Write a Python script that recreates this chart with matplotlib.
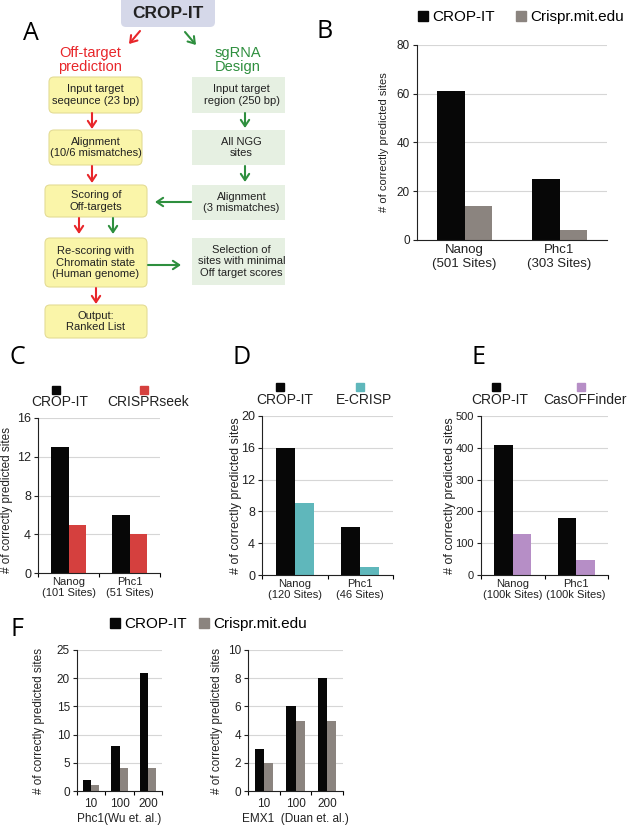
import numpy as np
import matplotlib
matplotlib.use('Agg')
import matplotlib.pyplot as plt
from matplotlib.patches import FancyBboxPatch
from matplotlib.lines import Line2D

plt.rcParams['font.family'] = ['Liberation Sans', 'DejaVu Sans']

BLACK = '#070707'
GRAY = '#8b847f'
RED = '#d5403e'
TEAL = '#5fb7bb'
PURPLE = '#b68ec6'

# panel B
b_cats = ['Nanog\n(501 Sites)', 'Phc1\n(303 Sites)']
b_cropit = [61, 25]
b_mit = [14, 4]
# panel C
c_cats = ['Nanog\n(101 Sites)', 'Phc1\n(51 Sites)']
c_cropit = [13, 6]
c_seek = [5, 4]
# panel D
d_cats = ['Nanog\n(120 Sites)', 'Phc1\n(46 Sites)']
d_cropit = [16, 6]
d_ecrisp = [9, 1]
# panel E
e_cats = ['Nanog\n(100k Sites)', 'Phc1\n(100k Sites)']
e_cropit = [410, 178]
e_cas = [128, 47]
# panel F
f_cats = ['10', '100', '200']
f_phc1_cropit = [2, 8, 21]
f_phc1_mit = [1, 4, 4]
f_emx1_cropit = [3, 6, 8]
f_emx1_mit = [2, 5, 5]

# panel A flowchart
left_steps = ['Input target\nseqeunce (23 bp)', 'Alignment\n(10/6 mismatches)',
              'Scoring of\nOff-targets', 'Re-scoring with\nChromatin state\n(Human genome)',
              'Output:\nRanked List']
right_steps = ['Input target\nregion (250 bp)', 'All NGG\nsites',
               'Alignment\n(3 mismatches)', 'Selection of\nsites with minimal\nOff target scores']

W, H = 629, 827
fig = plt.figure(figsize=(6.29, 8.27), dpi=100)

# full-figure overlay in pixel coordinates for the diagram and letters
ov = fig.add_axes([0, 0, 1, 1])
ov.set_xlim(0, W)
ov.set_ylim(H, 0)
ov.axis('off')

left_boxes = [(49, 77, 142, 113), (49, 130, 142, 165), (45, 185, 147, 217),
              (45, 238, 147, 287), (45, 305, 147, 338)]
right_boxes = [(192, 77, 285, 113), (192, 130, 285, 165), (192, 185, 285, 220),
               (192, 238, 285, 285)]

for (x0, y0, x1, y1), t in zip(left_boxes, left_steps):
    ov.add_patch(FancyBboxPatch((x0, y0), x1 - x0, y1 - y0,
                                boxstyle='round,pad=0,rounding_size=5',
                                fc='#faf5a9', ec='#e4dc95', lw=0.8))
    ov.text((x0 + x1) / 2, (y0 + y1) / 2, t, ha='center', va='center',
            fontsize=8, color='#222222', linespacing=1.15)
for (x0, y0, x1, y1), t in zip(right_boxes, right_steps):
    ov.add_patch(FancyBboxPatch((x0, y0), x1 - x0, y1 - y0,
                                boxstyle='square,pad=0', fc='#e6f0e2', ec='none'))
    ov.text((x0 + x1) / 2 + 3, (y0 + y1) / 2, t, ha='center', va='center',
            fontsize=8, color='#222222', linespacing=1.15)

ov.add_patch(FancyBboxPatch((121, -6), 94, 33, boxstyle='round,pad=0,rounding_size=5',
                            fc='#d5d8e9', ec='none'))
ov.text(168, 13, 'CROP-IT', ha='center', va='center', fontsize=12.5,
        fontweight='bold', color='#222222')

REDA = '#e8262a'
GRNA = '#2e8f3e'
ov.text(90, 60, 'Off-target\nprediction', ha='center', va='center', fontsize=10.5,
        color=REDA, linespacing=1.05)
ov.text(238, 60, 'sgRNA\nDesign', ha='center', va='center', fontsize=10.5,
        color=GRNA, linespacing=1.05)

arrows = [((140, 31), (129, 44), REDA), ((185, 32), (196, 45), GRNA),
          ((92, 113), (92, 129), REDA), ((92, 166), (92, 183), REDA),
          ((79, 218), (79, 234), REDA), ((113, 218), (113, 234), GRNA),
          ((96, 288), (96, 304), REDA),
          ((245, 113), (245, 128), GRNA), ((245, 166), (245, 182), GRNA),
          ((191, 202), (155, 202), GRNA), ((148, 265), (181, 265), GRNA)]
for (xa, ya), (xb, yb), c in arrows:
    ov.annotate('', xy=(xb, yb), xytext=(xa, ya),
                arrowprops=dict(arrowstyle='->,head_length=0.45,head_width=0.3',
                                color=c, lw=1.5, shrinkA=0, shrinkB=0))

for letter, (lx, ly) in zip('ABCDEF', [(31, 33), (325, 32), (17, 357), (242, 357),
                                       (478, 357), (17, 630)]):
    ov.text(lx, ly, letter, ha='center', va='center', fontsize=18,
            family='Open Sans', color='black')


def add_ax(x0, y0, x1, y1):
    return fig.add_axes([x0 / W, 1 - y1 / H, (x1 - x0) / W, (y1 - y0) / H])


def bars(ax, cats, a, b, col, ymax, step, tfs, xfs, yfs, xticks_minor=True):
    x = np.arange(len(cats))
    w = 0.29
    ax.bar(x - w / 2, a, w, color=BLACK)
    ax.bar(x + w / 2, b, w, color=col)
    ax.set_xlim(-0.5, len(cats) - 0.5)
    ax.set_ylim(0, ymax)
    ax.set_yticks(np.arange(0, ymax + 1, step))
    ax.set_xticks(x)
    ax.set_xticklabels(cats, fontsize=xfs, linespacing=1.15)
    ax.tick_params(axis='x', which='major', length=0, pad=3, colors='#222222')
    if xticks_minor:
        ax.set_xticks(np.arange(-0.5, len(cats)), minor=True)
        ax.tick_params(axis='x', which='minor', length=3, width=0.8)
    ax.tick_params(axis='y', labelsize=tfs, length=3, width=0.8, pad=2,
                   colors='#222222')
    ax.yaxis.grid(True, color='#d6d6d6', lw=0.8)
    ax.set_axisbelow(True)
    for s in ['top', 'right']:
        ax.spines[s].set_visible(False)
    for s in ['left', 'bottom']:
        ax.spines[s].set_linewidth(0.8)
        ax.spines[s].set_color('#222222')
    ax.set_ylabel('# of correctly predicted sites', fontsize=yfs, color='#222222')


def top_legend(ax, names, cols, xs):
    for n, c, xx in zip(names, cols, xs):
        ax.text(xx, 1.10, n, transform=ax.transAxes, ha='center', va='center',
                fontsize=10, color='#222222')
        ax.plot([xx - 0.03], [1.18], 's', ms=5.5, color=c, transform=ax.transAxes,
                clip_on=False)


# B
axB = add_ax(417, 45, 607, 240)
bars(axB, b_cats, b_cropit, b_mit, GRAY, 80, 20, 8.5, 9.5, 8, xticks_minor=False)
axB.yaxis.set_label_coords(-0.147, 0.5)
fig.legend(handles=[Line2D([], [], marker='s', ls='', color=BLACK, ms=7),
                    Line2D([], [], marker='s', ls='', color=GRAY, ms=7)],
           labels=['CROP-IT', 'Crispr.mit.edu'], loc='center',
           bbox_to_anchor=(520 / W, 1 - 17 / H), ncol=2, frameon=False,
           fontsize=11, handletextpad=0.1, columnspacing=1.2, handlelength=1)

# C
axC = add_ax(38, 418, 160, 573)
bars(axC, c_cats, c_cropit, c_seek, RED, 16, 4, 9, 8, 8.5)
axC.yaxis.set_label_coords(-0.205, 0.47)
top_legend(axC, ['CROP-IT', 'CRISPRseek'], [BLACK, RED], [0.18, 0.90])

# D
axD = add_ax(262, 416, 393, 575)
bars(axD, d_cats, d_cropit, d_ecrisp, TEAL, 20, 4, 9, 8, 9)
axD.yaxis.set_label_coords(-0.153, 0.5)
top_legend(axD, ['CROP-IT', 'E-CRISP'], [BLACK, TEAL], [0.17, 0.78])

# E
axE = add_ax(481, 416, 608, 575)
bars(axE, e_cats, e_cropit, e_cas, PURPLE, 500, 100, 8, 8, 9)
axE.yaxis.set_label_coords(-0.195, 0.5)
top_legend(axE, ['CROP-IT', 'CasOFFinder'], [BLACK, PURPLE], [0.15, 0.82])

# F
axF1 = add_ax(77, 650, 162, 791)
bars(axF1, f_cats, f_phc1_cropit, f_phc1_mit, GRAY, 25, 5, 8.5, 8.5, 8.5)
axF1.tick_params(axis='x', which='major', pad=5)
axF1.set_xlabel('Phc1(Wu et. al.)', fontsize=8.5, labelpad=2, color='#222222')
axF1.yaxis.set_label_coords(-0.376, 0.5)

axF2 = add_ax(248, 650, 343, 791)
bars(axF2, f_cats, f_emx1_cropit, f_emx1_mit, GRAY, 10, 2, 8.5, 8.5, 8.5)
axF2.tick_params(axis='x', which='major', pad=5)
axF2.set_xlabel('EMX1  (Duan et. al.)', fontsize=8.5, labelpad=2, color='#222222')
axF2.yaxis.set_label_coords(-0.263, 0.5)

fig.legend(handles=[Line2D([], [], marker='s', ls='', color=BLACK, ms=7),
                    Line2D([], [], marker='s', ls='', color=GRAY, ms=7)],
           labels=['CROP-IT', 'Crispr.mit.edu'], loc='center',
           bbox_to_anchor=(207 / W, 1 - 624 / H), ncol=2, frameon=False,
           fontsize=11, handletextpad=0.1, columnspacing=0.6, handlelength=1)

fig.savefig('out.png', dpi=100, facecolor='white')
